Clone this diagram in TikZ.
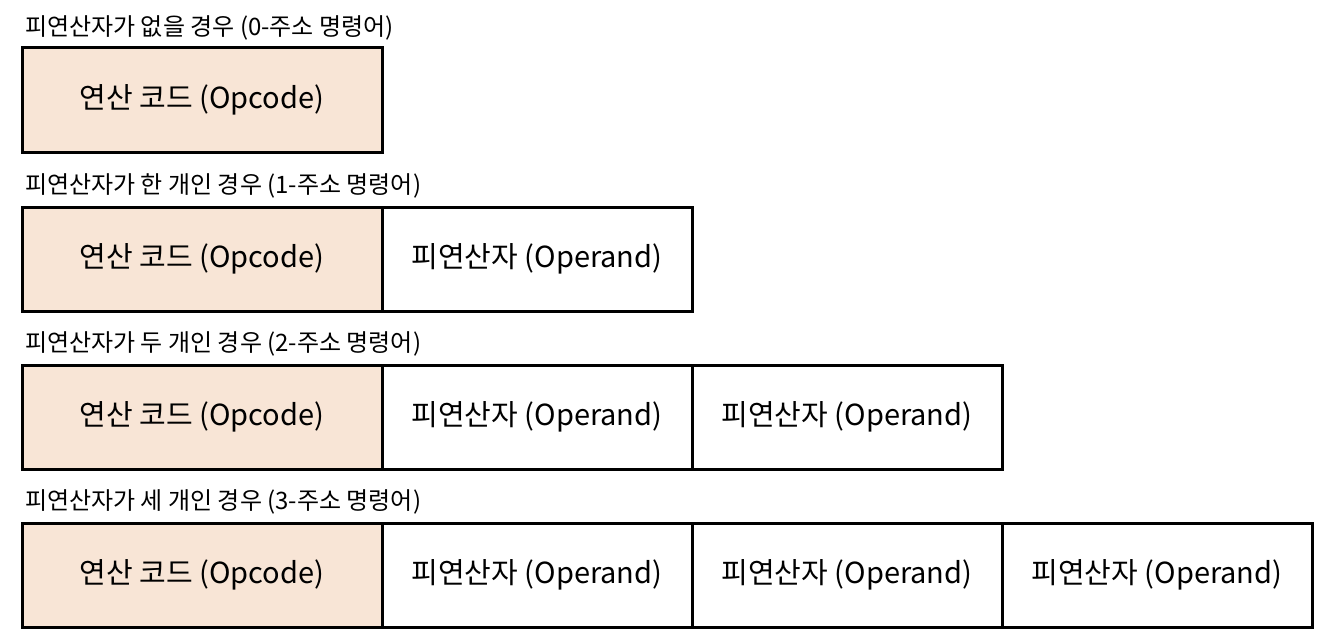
\documentclass[tikz,border=0pt]{standalone}
\usepackage{fontspec}
\setmainfont{Noto Sans CJK KR}
\definecolor{peach}{HTML}{F8E5D6}
\begin{document}
\begin{tikzpicture}[x=1pt,y=-1pt,
  cell/.style={draw=black,line width=3pt,minimum width=310pt,minimum height=104pt,inner sep=0pt,font=\fontsize{29}{34}\selectfont},
  op/.style={cell,fill=peach,minimum width=360pt},
  rowlabel/.style={anchor=west,inner sep=0pt,font=\fontsize{24}{28}\selectfont}]
\useasboundingbox (0,0) rectangle (1332,642);
\node[rowlabel] (l1) at (25,28) {피연산자가 없을 경우 (0-주소 명령어)};
\node[op] (a1) at (202,100) {연산 코드 (Opcode)};
\node[rowlabel] (l2) at (25,186) {피연산자가 한 개인 경우 (1-주소 명령어)};
\node[op] (a2) at (202,259) {연산 코드 (Opcode)};
\node[cell] (b2) at (537,259) {피연산자 (Operand)};
\node[rowlabel] (l3) at (25,344) {피연산자가 두 개인 경우 (2-주소 명령어)};
\node[op] (a3) at (202,417) {연산 코드 (Opcode)};
\node[cell] (b3) at (537,417) {피연산자 (Operand)};
\node[cell] (c3) at (847,417) {피연산자 (Operand)};
\node[rowlabel] (l4) at (25,502) {피연산자가 세 개인 경우 (3-주소 명령어)};
\node[op] (a4) at (202,575) {연산 코드 (Opcode)};
\node[cell] (b4) at (537,575) {피연산자 (Operand)};
\node[cell] (c4) at (847,575) {피연산자 (Operand)};
\node[cell] (d4) at (1157,575) {피연산자 (Operand)};
\end{tikzpicture}
\end{document}
